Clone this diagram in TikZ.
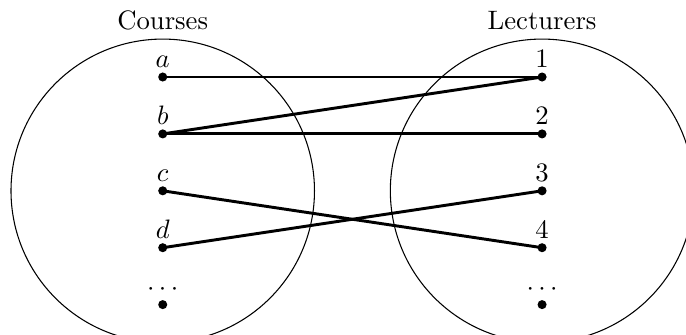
\documentclass[tikz,border=0pt]{standalone}
\begin{document}
\begin{tikzpicture}[
  dotnode/.style={circle,fill=black,inner sep=0pt,minimum size=3.4pt},
  link/.style={line width=1.1pt},
  setcircle/.style={draw,line width=0.4pt}
]
\useasboundingbox (-2.145,1.015) rectangle (6.897,-3.40);
\draw[setcircle] (0,-1.5) circle (2);
\draw[setcircle] (5,-1.5) circle (2);
\node[above] (lc) at (0,0.5) {Courses};
\node[above] (lr) at (5,0.5) {Lecturers};
\foreach \n/\y/\t in {a/0/a,b/-0.75/b,c/-1.5/c,d/-2.25/d,e/-3/\cdots}{
  \node[dotnode] (\n) at (0,\y) {};
  \node[above,inner sep=3.33pt] (l\n) at (0,\y) {$\t$};
}
\foreach \n/\y/\t in {1/0/1,2/-0.75/2,3/-1.5/3,4/-2.25/4,5/-3/\cdots}{
  \node[dotnode] (r\n) at (5,\y) {};
  \node[above,inner sep=3.33pt] (lr\n) at (5,\y) {$\t$};
}
\draw[link] (a.center) -- (r1.center);
\draw[link] (b.center) -- (r1.center);
\draw[link] (b.center) -- (r2.center);
\draw[link] (c.center) -- (r4.center);
\draw[link] (d.center) -- (r3.center);
\end{tikzpicture}
\end{document}
